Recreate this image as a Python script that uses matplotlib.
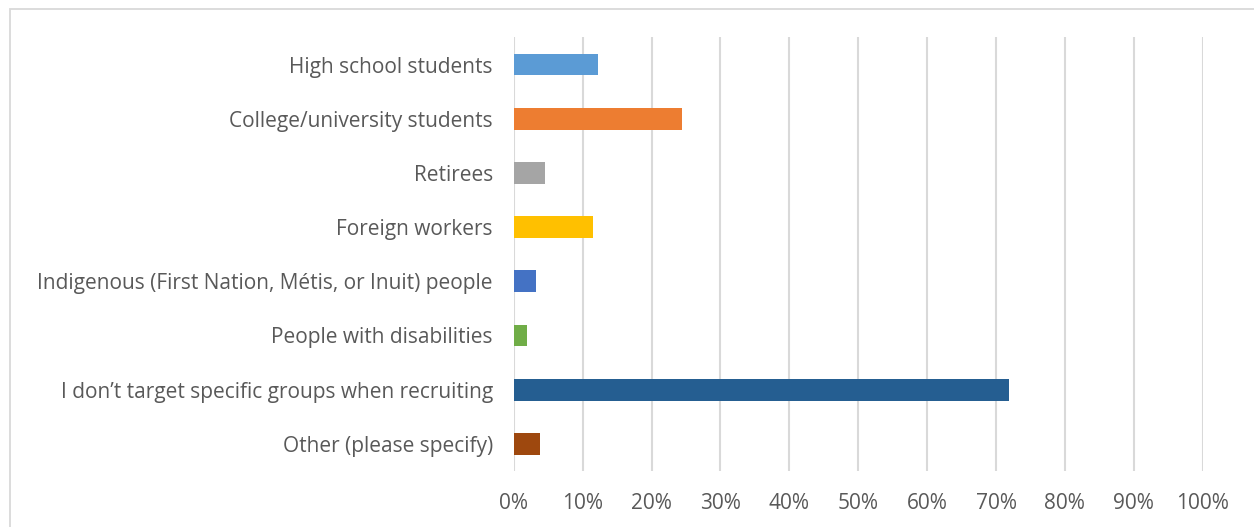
import matplotlib.pyplot as plt
from matplotlib.patches import Rectangle
from matplotlib.ticker import PercentFormatter

plt.rcParams['font.family'] = ['Open Sans', 'DejaVu Sans']

# survey answers, top to bottom
groups = [
    "High school students",
    "College/university students",
    "Retirees",
    "Foreign workers",
    "Indigenous (First Nation, Métis, or Inuit) people",
    "People with disabilities",
    "I don\u2019t target specific groups when recruiting",
    "Other (please specify)",
]
shares = [12.2, 24.4, 4.5, 11.5, 3.2, 1.9, 71.9, 3.8]
bar_colors = ["#5B9BD5", "#ED7D31", "#A5A5A5", "#FFC000",
              "#4472C4", "#70AD47", "#255E91", "#9E480E"]
xticks = list(range(0, 101, 10))

fig = plt.figure(figsize=(12.54, 5.27), dpi=100)
ax = fig.add_axes([0.4097, 0.1063, 0.5494, 0.8227])

pos = list(range(len(groups)))
ax.barh(pos, shares, height=0.4, color=bar_colors, zorder=3)
ax.set_ylim(len(groups) - 0.5, -0.5)
ax.set_yticks(pos)
ax.set_yticklabels(groups)
ax.set_xlim(0, 100)
ax.set_xticks(xticks)
ax.xaxis.set_major_formatter(PercentFormatter(decimals=0))

ax.grid(axis='x', color='#d9d9d9', linewidth=1.5, zorder=0)
for s in ax.spines.values():
    s.set_visible(False)
ax.tick_params(axis='both', length=0, labelsize=15, labelcolor='#595959')
ax.tick_params(axis='y', pad=15)
ax.tick_params(axis='x', pad=16)

# chart area frame
fig.patches.append(Rectangle((10 / 1254, -0.01), 1.0, 1 - 8.5 / 527 + 0.01,
                             transform=fig.transFigure, fill=False,
                             edgecolor='#d9d9d9', linewidth=1.3))

fig.savefig("out.png", dpi=100)
